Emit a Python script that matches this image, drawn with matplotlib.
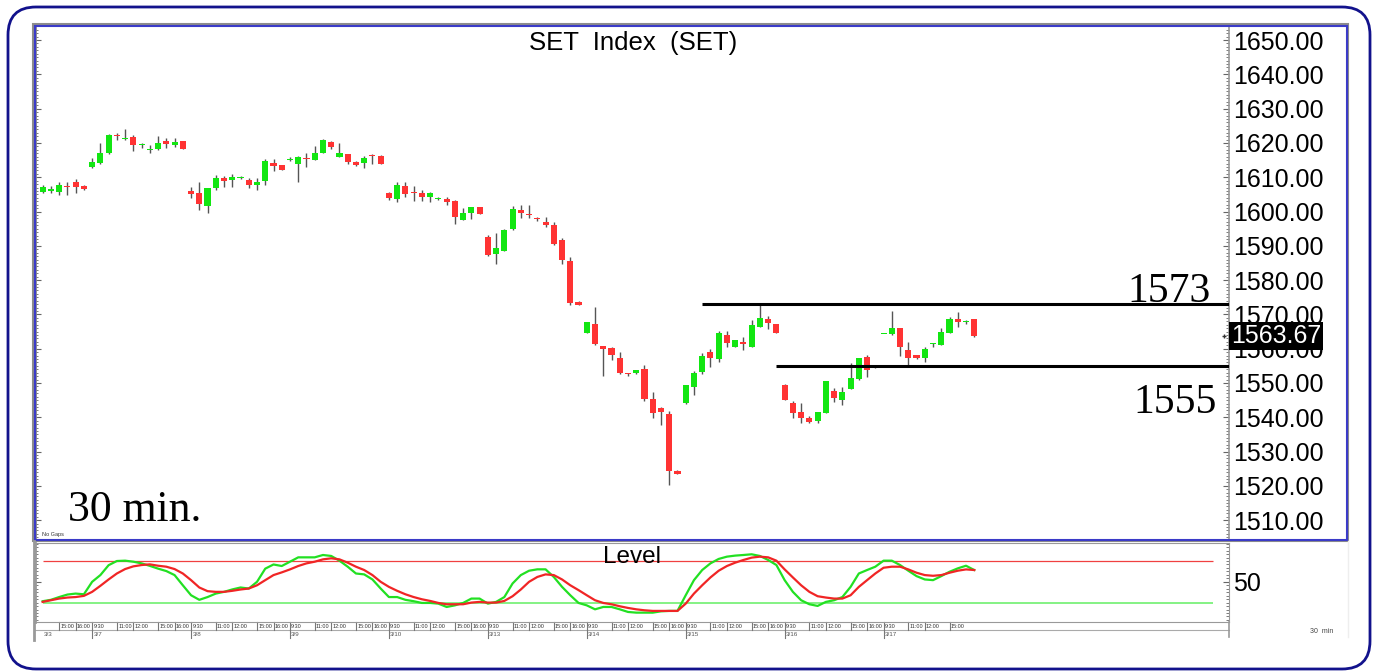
import matplotlib.pyplot as plt
import matplotlib.transforms as mtransforms
from matplotlib.patches import Rectangle, FancyBboxPatch
from matplotlib.lines import Line2D
from matplotlib.ticker import MultipleLocator, FormatStrFormatter

plt.rcParams['font.family'] = ['Liberation Sans', 'DejaVu Sans']

# SET index, 30 min bars (last 6 bars of 3/3, then 12 bars a day)
opens = [1605.8, 1606.1, 1605.8, 1607.4, 1608.7, 1607.5,
         1612.9, 1614.2, 1617.0, 1622.2, 1621.2, 1621.6, 1619.4, 1618.0, 1618.1, 1620.5, 1619.5, 1620.6,
         1606.0, 1605.5, 1601.7, 1606.8, 1609.8, 1609.2, 1609.9, 1609.2, 1607.7, 1608.9, 1614.2, 1613.5,
         1615.0, 1613.9, 1615.5, 1615.0, 1617.2, 1620.3, 1616.0, 1616.7, 1614.5, 1614.2, 1616.3, 1616.3,
         1605.3, 1603.6, 1607.5, 1605.7, 1605.3, 1604.1, 1603.7, 1603.6, 1603.2, 1597.5, 1599.5, 1601.2,
         1592.5, 1587.5, 1588.6, 1594.8, 1600.4, 1599.3, 1597.9, 1596.8, 1596.1, 1591.7, 1585.7, 1573.7,
         1564.7, 1567.2, 1560.8, 1560.1, 1557.4, 1552.7, 1552.8, 1554.0, 1545.2, 1542.8, 1541.0, 1524.4,
         1544.1, 1548.9, 1553.3, 1559.0, 1557.0, 1563.9, 1560.6, 1562.0, 1560.6, 1566.4, 1568.6, 1567.2,
         1549.5, 1544.1, 1541.6, 1539.7, 1538.9, 1541.3, 1547.8, 1545.0, 1548.2, 1551.1, 1557.5, 1554.4,
         1564.3, 1564.2, 1565.9, 1559.6, 1558.2, 1557.2, 1561.4, 1561.1, 1564.7, 1568.7, 1567.8, 1568.6]
highs = [1607.6, 1607.4, 1608.7, 1608.7, 1609.4, 1607.6,
         1615.5, 1619.9, 1622.5, 1623.0, 1624.2, 1622.3, 1619.9, 1619.4, 1622.0, 1621.5, 1621.3, 1620.7,
         1607.2, 1608.7, 1607.0, 1610.6, 1610.5, 1610.9, 1610.5, 1609.7, 1609.7, 1615.2, 1615.2, 1613.6,
         1616.0, 1616.1, 1617.2, 1619.1, 1621.2, 1620.6, 1619.9, 1616.8, 1614.7, 1616.2, 1616.7, 1616.4,
         1605.8, 1608.7, 1608.5, 1607.5, 1606.3, 1605.6, 1604.1, 1604.3, 1603.3, 1600.9, 1601.3, 1601.3,
         1593.2, 1593.6, 1594.8, 1601.6, 1601.9, 1601.9, 1598.5, 1598.5, 1597.0, 1592.2, 1586.8, 1573.8,
         1567.8, 1572.3, 1560.9, 1560.6, 1559.1, 1553.0, 1553.9, 1555.2, 1547.5, 1542.9, 1541.9, 1524.5,
         1549.5, 1553.5, 1558.6, 1559.8, 1565.3, 1565.3, 1562.6, 1563.5, 1568.4, 1572.7, 1569.5, 1567.3,
         1549.6, 1544.8, 1544.1, 1540.4, 1541.6, 1550.7, 1548.4, 1548.7, 1555.9, 1557.3, 1558.2, 1554.7,
         1564.4, 1571.1, 1566.0, 1562.0, 1558.3, 1560.6, 1561.7, 1565.9, 1569.1, 1570.8, 1568.5, 1568.7]
lows = [1605.4, 1605.5, 1604.8, 1604.8, 1605.5, 1606.4,
        1612.8, 1614.0, 1616.9, 1621.0, 1620.9, 1617.7, 1618.4, 1617.1, 1618.0, 1618.6, 1618.7, 1618.1,
        1603.8, 1600.4, 1599.5, 1606.3, 1607.2, 1607.2, 1609.6, 1607.0, 1606.3, 1607.7, 1611.8, 1612.0,
        1614.8, 1608.7, 1613.1, 1614.9, 1617.1, 1618.1, 1615.9, 1614.0, 1613.2, 1612.8, 1614.0, 1613.8,
        1603.5, 1602.9, 1604.1, 1603.2, 1603.2, 1602.7, 1603.5, 1601.9, 1596.5, 1597.4, 1597.7, 1599.2,
        1587.0, 1584.6, 1588.5, 1594.6, 1598.0, 1598.0, 1597.3, 1595.4, 1590.2, 1584.7, 1572.7, 1572.6,
        1564.6, 1561.1, 1552.0, 1556.7, 1552.6, 1552.0, 1552.7, 1544.6, 1539.7, 1537.8, 1520.3, 1523.4,
        1544.0, 1546.5, 1552.6, 1554.6, 1556.2, 1560.6, 1560.5, 1559.6, 1560.4, 1566.3, 1565.6, 1564.6,
        1544.9, 1539.7, 1538.4, 1538.2, 1538.2, 1541.2, 1544.5, 1543.6, 1548.1, 1551.0, 1551.8, 1554.3,
        1564.2, 1564.1, 1557.9, 1555.0, 1557.1, 1556.2, 1560.4, 1561.0, 1564.6, 1566.4, 1567.1, 1563.5]
closes = [1607.2, 1606.7, 1607.8, 1607.2, 1607.2, 1606.5,
          1614.5, 1617.2, 1622.3, 1622.0, 1621.4, 1619.5, 1619.6, 1618.1, 1619.9, 1619.7, 1620.3, 1618.2,
          1605.0, 1602.2, 1606.8, 1609.7, 1609.0, 1610.0, 1610.1, 1607.7, 1608.7, 1614.7, 1613.3, 1612.1,
          1615.3, 1616.0, 1615.3, 1617.2, 1621.0, 1618.9, 1617.2, 1614.5, 1613.5, 1615.7, 1616.1, 1613.9,
          1603.8, 1607.7, 1605.1, 1605.5, 1604.1, 1605.5, 1603.9, 1602.9, 1598.5, 1599.5, 1601.2, 1599.3,
          1587.3, 1589.3, 1594.6, 1600.6, 1599.7, 1599.1, 1597.7, 1596.1, 1590.5, 1585.9, 1573.2, 1572.7,
          1567.7, 1561.4, 1559.8, 1558.2, 1552.8, 1552.5, 1553.8, 1545.2, 1541.3, 1541.6, 1524.4, 1523.5,
          1549.4, 1552.8, 1558.0, 1557.4, 1564.5, 1561.6, 1562.5, 1561.3, 1566.9, 1568.9, 1567.4, 1564.7,
          1545.0, 1541.1, 1539.7, 1538.5, 1541.4, 1550.6, 1545.5, 1547.5, 1551.4, 1557.2, 1553.8, 1554.6,
          1564.3, 1566.1, 1560.4, 1557.2, 1557.2, 1559.9, 1561.6, 1565.0, 1568.6, 1567.9, 1568.0, 1563.67]

# "Level" indicator: fast (green) and slow (red) lines
level_fast = [22, 24, 28, 31.6, 33, 32, 50, 59.7, 74, 80, 80.5, 79, 76.6, 73, 69, 65.5, 59.7, 45,
              30.6, 24, 28, 33, 35.5, 39, 41.8, 40.3, 50, 69, 75, 72.8,
              79, 85.3, 85.3, 85.3, 88.7, 87.3, 80.5, 71.8, 62, 60.7, 53.4, 40.3,
              28, 28, 24, 22, 19.5, 19.5, 18.5, 13.7, 16, 19.5, 25.8, 25.8,
              18.5, 21, 28, 47.6, 59.7, 66, 68, 68, 57, 42.7, 30.6, 19.5,
              16, 10.3, 13.7, 13.7, 10.3, 6.5, 5.5, 5.5, 5.5, 7.4, 8, 8,
              30.6, 52.4, 67, 76.6, 83, 86.3, 87.8, 88.7, 89.7, 87.3, 81.5, 74.2,
              52.4, 35.5, 23.4, 17.6, 15.2, 21, 23.4, 28, 42.7, 62, 67, 71.8,
              80.5, 80.5, 74.2, 66, 58.2, 53.4, 52.4, 58.2, 64.5, 69.4, 73.2, 67]
level_slow = [21, 23.4, 25.8, 27.3, 28, 29.7, 35.5, 44.2, 53.4, 62, 68.4, 72.3, 74.2, 75.2, 73.2, 71.8, 68.4, 62,
              52.4, 41.8, 36.5, 35.5, 35.5, 37, 38.9, 40.3, 45, 52.4, 59.7, 63.6,
              67.9, 72.8, 76.6, 79, 82.4, 83.9, 82.4, 77.6, 71.8, 67, 59.7, 50,
              42.7, 37, 32, 28, 24.8, 22.4, 19.5, 17.6, 17.6, 17.6, 20, 21,
              20, 20, 22.4, 29.2, 38.9, 50, 57, 60.7, 59.7, 53.4, 45, 38,
              30.6, 23.4, 19.5, 17.6, 14.7, 12.3, 10.3, 8.9, 8, 8, 8, 8,
              18.5, 33, 45, 56.3, 66, 72.8, 77.6, 81.5, 84.9, 86.3, 85.3, 80.5,
              67.9, 56.3, 45, 35.5, 29.2, 27.3, 25.8, 25.8, 30.6, 42.7, 52.4, 62,
              70.3, 71.8, 71.8, 67.9, 63.1, 59.7, 58.7, 59.7, 63.1, 66, 67.9, 67]
level_upper = 80
level_lower = 20

days = ['3/3', '3/7', '3/8', '3/9', '3/10', '3/13', '3/14', '3/15', '3/16', '3/17']
bars_per_day = 12
first_day_bars = 6
time_slots = [0, 3, 5, 8, 10]
time_labels = ['9:30', '11:00', '12:00', '15:00', '16:00']

support_levels = [1573, 1555]
support_from_bar = [80, 89]
last_price = closes[-1]

W, H = 1378, 671
def fx(px):
    return px / W
def fy(py):
    return 1 - py / H

fig = plt.figure(figsize=(W / 100, H / 100), dpi=100)
fig.patch.set_facecolor('white')

x_left, x_right = -0.93, 143.9

# -------- price panel --------
ax = fig.add_axes([fx(35), fy(539), fx(1229) - fx(35), fy(26) - fy(539)])
n = len(closes)
xs = list(range(n))
colors = ['#12e612' if c >= o else '#ff3333' for o, c in zip(opens, closes)]
bottoms = [min(o, c) for o, c in zip(opens, closes)]
heights = [max(abs(c - o), 0.3) for o, c in zip(opens, closes)]
ax.vlines(xs, lows, highs, color='#555555', lw=1, zorder=2)
ax.bar(xs, heights, bottom=bottoms, width=0.74, color=colors, linewidth=0, zorder=3)

for lvl, start in zip(support_levels, support_from_bar):
    ax.hlines(lvl, start, x_right, color='black', lw=2.2, zorder=4)

ax.set_xlim(x_left, x_right)
ax.set_ylim(1504.5, 1654.1)
ax.set_xticks([])
ax.set_yticks(range(1510, 1651, 10))
ax.yaxis.set_major_formatter(FormatStrFormatter('%.2f'))
ax.yaxis.set_minor_locator(MultipleLocator(1))
ax.yaxis.set_ticks_position('both')
ax.tick_params(axis='y', which='both', direction='in', labelleft=False, labelright=True,
               labelsize=18, pad=3, color='#666666')
ax.tick_params(axis='y', which='major', length=4)
ax.tick_params(axis='y', which='minor', length=2)
for s in ['top', 'bottom']:
    ax.spines[s].set_visible(False)
ax.spines['left'].set_color('#888888')
ax.spines['left'].set_linewidth(2)
ax.spines['right'].set_color('#999999')
ax.spines['right'].set_linewidth(1.2)

blend = mtransforms.blended_transform_factory(ax.transAxes, ax.transData)
ax.text(1.0017, last_price, '1563.67', transform=blend, ha='left', va='center', color='white',
        fontsize=18, zorder=10, clip_on=False,
        bbox=dict(boxstyle='square,pad=0.08', fc='black', ec='none'))
ax.plot([143.3], [last_price], marker='+', ms=3, color='#333333', clip_on=False)

# -------- indicator panel --------
ax2 = fig.add_axes([fx(35), fy(622), fx(1229) - fx(35), fy(543) - fy(622)])
ax2.hlines(level_upper, 0, 141.9, color='#f04040', lw=0.9)
ax2.hlines(level_lower, 0, 141.9, color='#70f070', lw=1.2)
ax2.plot(xs, level_fast, color='#22e022', lw=1.6)
ax2.plot(xs, level_slow, color='#f02525', lw=1.6)
ax2.set_xlim(x_left, x_right)
ax2.set_ylim(-8, 106)
ax2.set_xticks([])
ax2.set_yticks([50])
ax2.yaxis.set_minor_locator(MultipleLocator(5))
ax2.yaxis.set_ticks_position('both')
ax2.tick_params(axis='y', which='both', direction='in', labelleft=False, labelright=True,
                labelsize=18, pad=3, color='#666666')
ax2.tick_params(axis='y', which='major', length=4)
ax2.tick_params(axis='y', which='minor', length=2)
for s in ax2.spines.values():
    s.set_color('#999999')
ax2.spines['left'].set_linewidth(2)
ax2.text(0.5, 0.82, 'Level', transform=ax2.transAxes, ha='center', va='center', fontsize=17.5)

# time / date rows under the indicator
tb = mtransforms.blended_transform_factory(ax2.transData, fig.transFigure)
ax2.add_line(Line2D([x_left, x_right], [fy(630), fy(630)], transform=tb, color='#aaaaaa',
                    lw=0.8, clip_on=False))
for d, day in enumerate(days):
    start = d * bars_per_day - (bars_per_day - first_day_bars)
    for slot, lab in zip(time_slots, time_labels):
        i = start + slot
        if i < 0:
            continue
        if d == len(days) - 1 and lab == '16:00':
            continue  # not shown on the last day
        ax2.add_line(Line2D([i, i], [fy(622), fy(630)], transform=tb, color='#777777',
                            lw=0.8, clip_on=False))
        ax2.text(i + 0.15, fy(626.5), lab, transform=tb, fontsize=4, ha='left', va='center',
                 color='#333333')
    di = max(start, 0)
    if start >= 0:
        ax2.add_line(Line2D([di, di], [fy(630), fy(638)], transform=tb, color='#777777',
                            lw=0.8, clip_on=False))
    ax2.text(di + 0.15, fy(635), day, transform=tb, fontsize=4.5, ha='left', va='center',
             color='#555555')

# -------- frames and annotations --------
fig.add_artist(Rectangle((fx(33), fy(541)), fx(1348) - fx(33), fy(24) - fy(541),
                         transform=fig.transFigure, fill=False, ec='#8c8c8c', lw=1.5))
fig.add_artist(Rectangle((fx(35), fy(539.5)), fx(1347) - fx(35), fy(26) - fy(539.5),
                         transform=fig.transFigure, fill=False, ec='#3b3bc8', lw=1.5))
fig.add_artist(Line2D([fx(34), fx(34)], [fy(541), fy(640)], transform=fig.transFigure,
                      color='#999999', lw=2))
fig.add_artist(Line2D([fx(1229), fx(1229)], [fy(622), fy(637)], transform=fig.transFigure,
                      color='#999999', lw=1.2))
fig.add_artist(Line2D([fx(1348), fx(1348)], [fy(541), fy(637)], transform=fig.transFigure,
                      color='#eeeeee', lw=1))
fig.add_artist(FancyBboxPatch((0.08, 0.02), 13.62, 6.62,
                              boxstyle='round,pad=0,rounding_size=0.28',
                              transform=fig.dpi_scale_trans, fill=False, ec='#12128c', lw=2))

fig.text(fx(633), fy(50), 'SET  Index  (SET)', ha='center', va='baseline', fontsize=18.5)
fig.text(fx(68), fy(521), '30 min.', ha='left', va='baseline', fontsize=31.5,
         family='Liberation Serif')
fig.text(fx(1211), fy(302), '1573', ha='right', va='baseline', fontsize=30,
         family='Liberation Serif')
fig.text(fx(1217), fy(413), '1555', ha='right', va='baseline', fontsize=30,
         family='Liberation Serif')
fig.text(fx(42), fy(536), 'No Gaps', ha='left', va='baseline', fontsize=4, color='#333333')
fig.text(fx(1310), fy(633), '30  min', ha='left', va='baseline', fontsize=5, color='#444444')

fig.savefig('out.png', dpi=100, facecolor='white')
